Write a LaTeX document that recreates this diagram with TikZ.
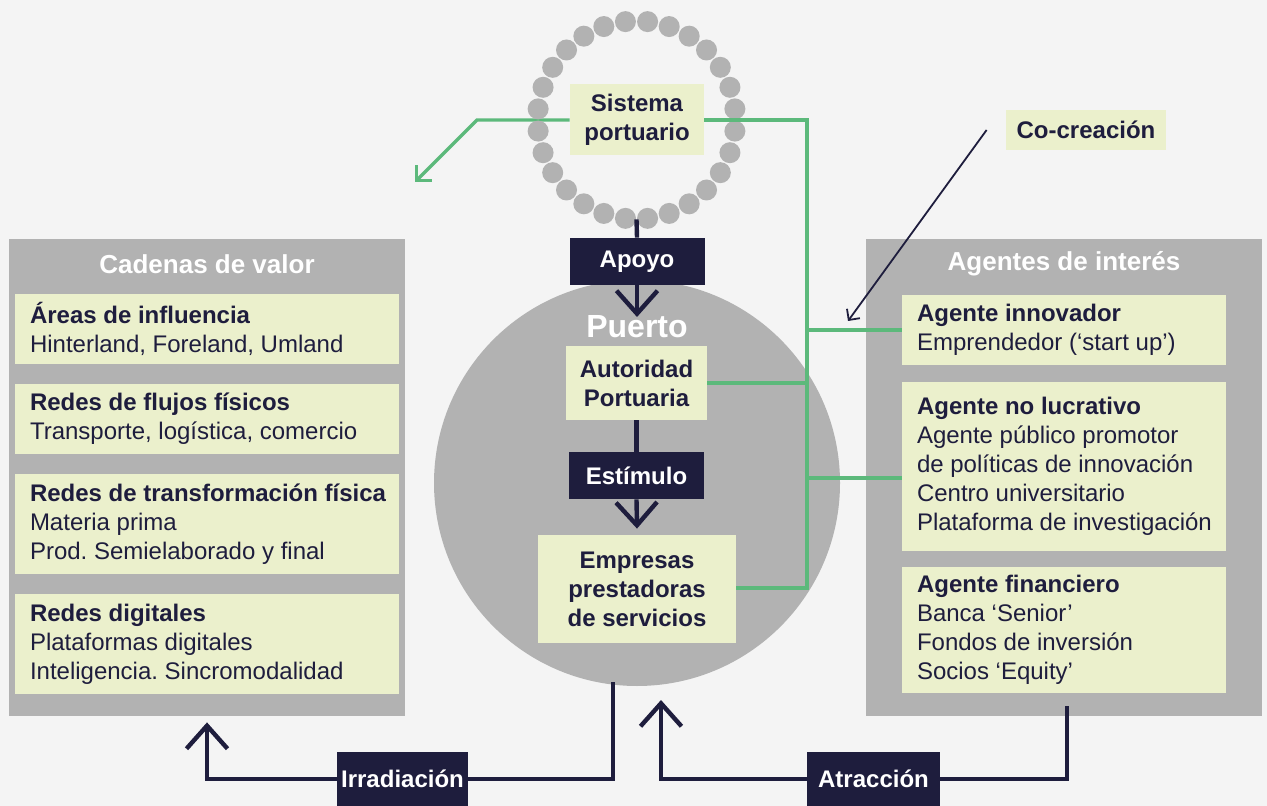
\documentclass[tikz,border=0pt]{standalone}
\usepackage{fontspec}
\setmainfont{Liberation Sans}
\usetikzlibrary{positioning,arrows.meta}
\frenchspacing

\definecolor{bgcol}{HTML}{F4F4F4}
\definecolor{panelgray}{HTML}{B2B2B2}
\definecolor{paleyellow}{HTML}{EBF0CC}
\definecolor{navy}{HTML}{1E1D3D}
\definecolor{linkgreen}{HTML}{5CB97B}

\begin{document}
\begin{tikzpicture}
[
	x=0.5pt,
	y=-0.5pt,
	panel/.style={fill=panelgray,inner sep=0pt,minimum width=198pt,minimum height=238.5pt},
	paneltitle/.style={text=white,font=\bfseries\fontsize{13}{15}\selectfont},
	itembox/.style={fill=paleyellow,inner sep=0pt},
	itemtext/.style={text=navy,align=left,inner sep=0pt,font=\fontsize{12}{14.5}\selectfont},
	keybox/.style={fill=paleyellow,text=navy,align=center,inner sep=0pt,font=\bfseries\fontsize{12}{14.5}\selectfont},
	flowbox/.style={fill=navy,text=white,inner sep=0pt,minimum width=67.5pt,minimum height=23.5pt,font=\bfseries\fontsize{12}{14.5}\selectfont},
	navyline/.style={draw=navy,line width=2.2pt},
	chevron/.style={-{Straight Barb[length=11.5pt,width=20.5pt,line width=2.2pt]}},
	greenline/.style={draw=linkgreen,line width=1.7pt},
	greenbarb/.style={-{Straight Barb[length=5.3pt,width=10.6pt,line width=1.7pt]}},
	dotgray/.style={fill=panelgray}
]

	% background
	\useasboundingbox (0,0) rectangle (1267,806);
	\fill[bgcol] (0,0) rectangle (1267,806);

	% big port circle
	\node[circle,fill=panelgray,inner sep=0pt,minimum size=203pt] (puerto) at (637,483) {};
	\node[text=white,font=\bfseries\fontsize{16}{18}\selectfont] (puertolbl) at (637,327) {Puerto};

	% side panels
	\node[panel] (lpanel) at (207,477.5) {};
	\node[paneltitle] (ltitle) at (207,264) {Cadenas de valor};
	\node[panel] (rpanel) at (1064,477.5) {};
	\node[paneltitle] (rtitle) at (1064,264) {Agentes de interés};

	% value chains
	\node[itembox,minimum width=192pt,minimum height=35pt] (l1) at (207,329) {};
	\node[itemtext,right=7.5pt of l1.west] (l1t) {\textbf{Áreas de influencia}\\Hinterland, Foreland, Umland};
	\node[itembox,minimum width=192pt,minimum height=35pt] (l2) at (207,419) {};
	\node[itemtext,right=7.5pt of l2.west] (l2t) {\textbf{Redes de flujos físicos}\\Transporte, logística, comercio};
	\node[itembox,minimum width=192pt,minimum height=50pt] (l3) at (207,524) {};
	\node[itemtext,right=7.5pt of l3.west] (l3t) {\textbf{Redes de transformación física}\\Materia prima\\Prod. Semielaborado y final};
	\node[itembox,minimum width=192pt,minimum height=50pt] (l4) at (207,644) {};
	\node[itemtext,right=7.5pt of l4.west] (l4t) {\textbf{Redes digitales}\\Plataformas digitales\\Inteligencia. Sincromodalidad};

	% stakeholders
	\node[itembox,minimum width=162pt,minimum height=35pt] (r1) at (1064,330) {};
	\node[itemtext,right=7.5pt of r1.west] (r1t) {\textbf{Agente innovador}\\Emprendedor (‘start up’)};
	\node[itembox,minimum width=162pt,minimum height=84.5pt] (r2) at (1064,466.5) {};
	\node[itemtext,right=7.5pt of r2.west] (r2t) {\textbf{Agente no lucrativo}\\Agente público promotor\\de políticas de innovación\\Centro universitario\\Plataforma de investigación};
	\node[itembox,minimum width=162pt,minimum height=63pt] (r3) at (1064,630) {};
	\node[itemtext,right=7.5pt of r3.west] (r3t) {\textbf{Agente financiero}\\Banca ‘Senior’\\Fondos de inversión\\Socios ‘Equity’};

	% port system ring
	\node[circle,inner sep=0pt,minimum size=99pt] (ring) at (636.5,120) {};
	\node[keybox,minimum width=67pt,minimum height=35.5pt] (sist) at (637,120) {Sistema\\portuario};

	% green links
	\coordinate (gbend) at (477,120);
	\coordinate (gtip) at (415,182);
	\coordinate (gtop) at (807,120);
	\coordinate (gmid) at (807,478);
	\coordinate (gbot) at (807,588);
	\draw[greenline,greenbarb] (sist.west) -- (gbend) -- (gtip);

	\foreach \k in {0,...,27}
		\fill[dotgray] (ring.center) ++(6.43+\k*12.857:99) circle (10.5);

	% inside the port
	\node[flowbox] (apoyo) at (637,261.5) {Apoyo};
	\node[keybox,minimum width=70.5pt,minimum height=37pt] (auto) at (636.5,383) {Autoridad\\Portuaria};
	\node[flowbox] (estim) at (636.5,475.5) {Estímulo};
	\node[keybox,minimum width=99pt,minimum height=54pt] (emp) at (637,589) {Empresas\\prestadoras\\de servicios};
	\coordinate (apoyotip) at (637,317);

	\draw[navyline] (ring.south) -- (apoyo.north);
	\draw[navyline,chevron] (apoyo.south) -- (apoyotip);
	\draw[navyline] (auto.south) -- (estim.north);
	\draw[navyline,chevron] (estim.south) -- ([yshift=3pt]emp.north);

	\draw[greenline] (sist.east) -- (gtop) -- (gbot) -- (emp.east |- gbot);
	\draw[greenline] (auto.east) -- (auto.east -| gtop);
	\draw[greenline] (gtop |- r1.west) -- (r1.west);
	\draw[greenline] (gmid) -- (gmid -| r2.west);

	% co-creation
	\node[keybox,minimum width=80pt,minimum height=20pt] (cocre) at (1086,130) {Co-creación};
	\coordinate (cotip) at (848,321);
	\draw[navy,line width=0.9pt,-{Straight Barb[length=4pt,width=8pt,line width=0.9pt]}] ([xshift=-9.5pt]cocre.west) -- (cotip);

	% irradiation and attraction
	\node[flowbox,minimum width=65.5pt,minimum height=27pt] (irr) at (402.5,779) {Irradiación};
	\node[flowbox,minimum width=66.5pt,minimum height=27pt] (atr) at (873.5,779) {Atracción};
	\coordinate (irrtop) at (613,682);
	\coordinate (atrtop) at (1067,706);
	\coordinate (atrtip) at (661,700);
	\draw[navyline] (irrtop) |- (irr.east);
	\draw[navyline,chevron,shorten >=3pt] (irr.west) -| (lpanel.south);
	\draw[navyline] (atrtop) |- (atr.east);
	\draw[navyline,chevron] (atr.west) -| (atrtip);

\end{tikzpicture}
\end{document}
